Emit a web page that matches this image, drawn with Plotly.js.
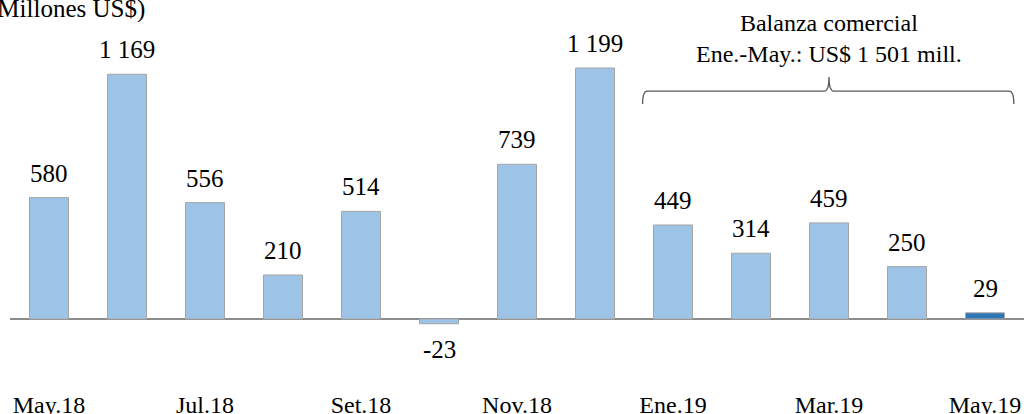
<!DOCTYPE html>
<html>
<head>
<meta charset="utf-8">
<script src="https://cdn.plot.ly/plotly-3.0.1.min.js"></script>
<style>html,body{margin:0;padding:0;background:#fff;}#chart{width:1024px;height:414px;}</style>
</head>
<body>
<div id="chart"></div>
<script>
var months = ["May.18","Jun.18","Jul.18","Ago.18","Set.18","Oct.18","Nov.18","Dic.18","Ene.19","Feb.19","Mar.19","Abr.19","May.19"];
var values = [580, 1169, 556, 210, 514, -23, 739, 1199, 449, 314, 459, 250, 29];
var tickLabels = ["May.18","Jul.18","Set.18","Nov.18","Ene.19","Mar.19","May.19"];
var tickIdx = [0, 2, 4, 6, 8, 10, 12];
var barColors = ["#9DC3E6","#9DC3E6","#9DC3E6","#9DC3E6","#9DC3E6","#9DC3E6","#9DC3E6","#9DC3E6","#9DC3E6","#9DC3E6","#9DC3E6","#9DC3E6","#2E75B6"];
var titleText = "(Millones US$)";
var noteText = "Balanza comercial<br>Ene.-May.: US$ 1 501 mill.";

function fmt(v){
  var s = Math.abs(v).toString().replace(/\B(?=(\d{3})+(?!\d))/g, " ");
  return (v < 0 ? "-" : "") + s;
}

var FONT = "Liberation Serif";
var xs = months.map(function(_, i){ return i; });

var trace = {
  type: "bar",
  x: xs,
  y: values,
  width: 0.5,
  marker: {color: barColors, line: {color: "#A6A6A6", width: 1}},
  hoverinfo: "none"
};

var annotations = values.map(function(v, i){
  return {
    x: i, y: v, xref: "x", yref: "y",
    text: fmt(v), showarrow: false,
    xanchor: "center",
    yanchor: v >= 0 ? "bottom" : "top",
    yshift: v >= 0 ? 9 : -10,
    font: {family: FONT, size: 25, color: "#000"}
  };
});
annotations.push({
  xref: "paper", yref: "paper", x: -0.0225, y: 0.978,
  xanchor: "left", yanchor: "middle", showarrow: false,
  text: titleText, font: {family: FONT, size: 25, color: "#000"}
});
annotations.push({
  xref: "x", yref: "y", x: 10, y: 1342,
  xanchor: "center", yanchor: "middle", showarrow: false,
  text: noteText, font: {family: FONT, size: 24, color: "#000"}
});

var x0 = 7.61, xm = 10.0, x1 = 12.37, yH = 1089, yLeg = 1027, yTip = 1156, dx = 0.06;
var bracePath = "M " + x0 + "," + yLeg +
  " Q " + x0 + "," + yH + " " + (x0 + dx) + "," + yH +
  " L " + (xm - dx) + "," + yH +
  " Q " + xm + "," + yH + " " + xm + "," + yTip +
  " Q " + xm + "," + yH + " " + (xm + dx) + "," + yH +
  " L " + (x1 - dx) + "," + yH +
  " Q " + x1 + "," + yH + " " + x1 + "," + yLeg;

var layout = {
  width: 1024, height: 414,
  margin: {l: 10, r: 0, t: 0, b: 26},
  paper_bgcolor: "#fff", plot_bgcolor: "#fff",
  showlegend: false,
  xaxis: {
    range: [-0.5, 12.5], tickvals: tickIdx, ticktext: tickLabels,
    showgrid: false, zeroline: false, showline: false, ticks: "",
    tickfont: {family: FONT, size: 24, color: "#000"}, fixedrange: true
  },
  yaxis: {
    range: [-330, 1524], showgrid: false, showticklabels: false,
    zeroline: true, zerolinecolor: "#8C8C8C", zerolinewidth: 1.5,
    showline: false, ticks: "", fixedrange: true
  },
  annotations: annotations,
  shapes: [{type: "path", xref: "x", yref: "y", path: bracePath, line: {color: "#595959", width: 1.3}}]
};

Plotly.newPlot("chart", [trace], layout, {displayModeBar: false, staticPlot: true});
</script>
</body>
</html>
